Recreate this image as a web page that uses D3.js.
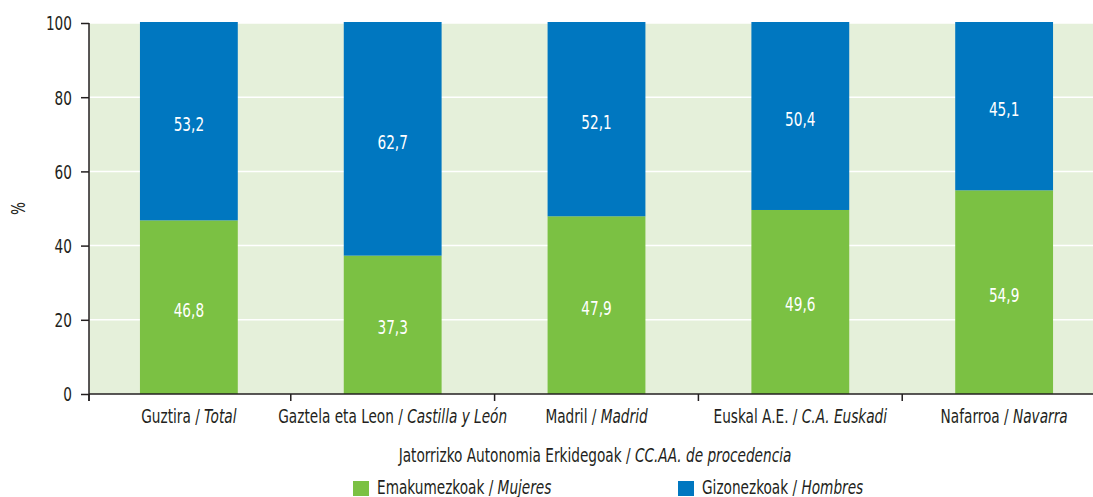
<!DOCTYPE html>
<html>
<head>
<meta charset="utf-8">
<script src="https://cdn.jsdelivr.net/npm/d3@7"></script>
<style>
  body { margin: 0; background: #fff; }
  text { font-family: "DejaVu Sans Condensed", "DejaVu Sans", sans-serif; font-stretch: condensed; fill: #231f20; font-size: 19px; }
</style>
</head>
<body>
<svg></svg>
<script>
let width = 1093;
let height = 497;

// data
let basque = ["Guztira", "Gaztela eta Leon", "Madril", "Euskal A.E.", "Nafarroa"];
let spanish = ["Total", "Castilla y León", "Madrid", "C.A. Euskadi", "Navarra"];
let mujeres = [46.8, 37.3, 47.9, 49.6, 54.9];
let hombres = [53.2, 62.7, 52.1, 50.4, 45.1];
let yTicks = [0, 20, 40, 60, 80, 100];
let seriesNames = [["Emakumezkoak", "Mujeres"], ["Gizonezkoak", "Hombres"]];
let colours = ["#7bc143", "#0077c0"];

let margin = {left: 89, top: 23, bottom: 103};
let squeeze = 0.8;   // condensed look for the text

let svg = d3.select("svg")
  .attr("width", width)
  .attr("height", height);

let x = d3.scaleBand()
  .domain(basque)
  .range([margin.left, margin.left + 1015])
  .paddingInner(0.52)
  .paddingOuter(0.25);

let y = d3.scaleLinear()
  .domain([0, 100])
  .range([height - margin.bottom, margin.top]);

let fmt = v => d3.format(".1f")(v).replace(".", ",");

// put text at (px, py), narrowed horizontally
function place(sel, px, py) {
  return sel.attr("transform", (d, i) => {
    let a = typeof px === "function" ? px(d, i) : px;
    let b = typeof py === "function" ? py(d, i) : py;
    return "translate(" + a + "," + b + ") scale(" + squeeze + ",1)";
  });
}

// background
svg.append("rect")
  .attr("x", x.range()[0])
  .attr("y", y(100))
  .attr("width", x.range()[1] - x.range()[0])
  .attr("height", y(0) - y(100))
  .style("fill", "#e5f0da");

// grid
svg.selectAll(".grid")
  .data(yTicks.filter(d => d > 0))
  .enter()
  .append("line")
    .attr("x1", x.range()[0])
    .attr("x2", x.range()[1])
    .attr("y1", d => y(d))
    .attr("y2", d => y(d))
    .style("stroke", "#fff")
    .style("stroke-width", 1.5);

let rows = basque.map((c, i) => ({cat: c, m: mujeres[i], h: hombres[i]}));

// green segments
svg.selectAll(".bar-m")
  .data(rows)
  .enter()
  .append("rect")
    .attr("x", d => x(d.cat))
    .attr("width", x.bandwidth())
    .attr("y", d => y(d.m))
    .attr("height", d => y(0) - y(d.m))
    .style("fill", colours[0]);

// blue segments
svg.selectAll(".bar-h")
  .data(rows)
  .enter()
  .append("rect")
    .attr("x", d => x(d.cat))
    .attr("width", x.bandwidth())
    .attr("y", d => y(d.m + d.h) - 1)
    .attr("height", d => y(d.m) - y(d.m + d.h) + 1)
    .style("fill", colours[1]);

// value labels
let cx = d => x(d.cat) + x.bandwidth() / 2;
place(svg.selectAll(".lab-m")
  .data(rows)
  .enter()
  .append("text"), cx, d => y(d.m / 2))
    .attr("dy", ".5em")
    .attr("text-anchor", "middle")
    .style("fill", "#fff")
    .text(d => fmt(d.m));

place(svg.selectAll(".lab-h")
  .data(rows)
  .enter()
  .append("text"), cx, d => y(d.m + d.h / 2))
    .attr("dy", ".5em")
    .attr("text-anchor", "middle")
    .style("fill", "#fff")
    .text(d => fmt(d.h));

// y axis
let yAxis = svg.append("g")
  .attr("transform", "translate(" + margin.left + ",0)")
  .call(d3.axisLeft(y).tickValues(yTicks).tickSize(8));
yAxis.select(".domain").style("stroke", "#231f20").style("stroke-width", 1.5)
  .attr("d", "M0," + y(100) + "V" + (y(0) + 7));
yAxis.selectAll(".tick line").style("stroke", "#231f20").style("stroke-width", 1.5);
yAxis.selectAll(".tick text")
  .attr("x", null)
  .attr("dy", ".36em")
  .attr("transform", "translate(-17,0) scale(" + squeeze + ",1)")
  .style("font-family", null)
  .style("font-size", "19px")
  .style("fill", "#231f20");

// x axis
let half = x.step() * x.paddingInner() / 2;
let bounds = basque.map(c => Math.max(x.range()[0], x(c) - half));
let xg = svg.append("g");
xg.append("line")
  .attr("x1", x.range()[0])
  .attr("x2", x.range()[1])
  .attr("y1", y(0))
  .attr("y2", y(0))
  .style("stroke", "#231f20")
  .style("stroke-width", 1.5);
xg.selectAll(".xtick")
  .data(bounds)
  .enter()
  .append("line")
    .attr("x1", d => d)
    .attr("x2", d => d)
    .attr("y1", y(0))
    .attr("y2", y(0) + 7)
    .style("stroke", "#231f20")
    .style("stroke-width", 1.5);

let xl = place(xg.selectAll(".xlab")
  .data(basque)
  .enter()
  .append("text"), d => x(d) + x.bandwidth() / 2, y(0) + 29)
    .attr("text-anchor", "middle");
xl.append("tspan").text(d => d + " / ");
xl.append("tspan").style("font-style", "italic").text((d, i) => spanish[i]);

// axis titles
let xt = place(svg.append("text"), 595, 462)
  .attr("text-anchor", "middle");
xt.append("tspan").text("Jatorrizko Autonomia Erkidegoak / ");
xt.append("tspan").style("font-style", "italic").text("CC.AA. de procedencia");

svg.append("text")
  .attr("transform", "translate(25," + y(50) + ") rotate(-90) scale(" + squeeze + ",1)")
  .attr("text-anchor", "middle")
  .text("%");

// legend
let legendX = [353, 678];
let legend = svg.selectAll(".legend")
  .data(seriesNames)
  .enter()
  .append("g")
    .attr("transform", (d, i) => "translate(" + legendX[i] + ",481)");
legend.append("rect")
  .attr("width", 16)
  .attr("height", 15)
  .style("fill", (d, i) => colours[i]);
let lt = place(legend.append("text"), 24, 13);
lt.append("tspan").text(d => d[0] + " / ");
lt.append("tspan").style("font-style", "italic").text(d => d[1]);
</script>
</body>
</html>
